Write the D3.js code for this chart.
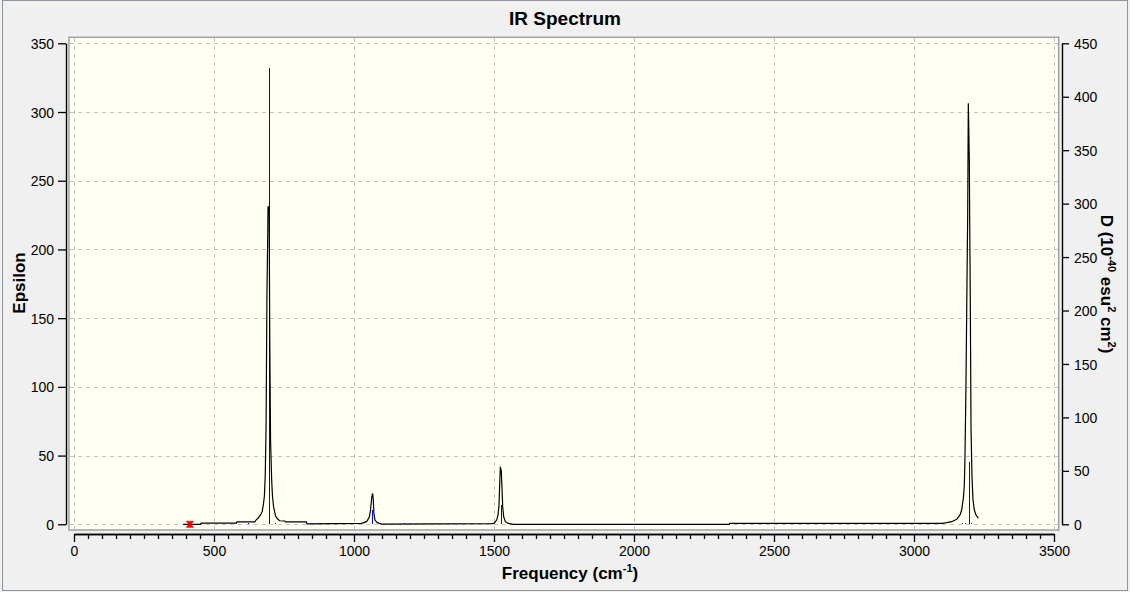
<!DOCTYPE html>
<html>
<head>
<meta charset="utf-8">
<script src="https://cdn.jsdelivr.net/npm/d3@7"></script>
<style>
  html, body { margin: 0; padding: 0; background: #f0f0f0; }
  svg { display: block; }
  text { font-family: "Liberation Sans", Arial, sans-serif; }
</style>
</head>
<body>
<svg id="chart" width="1130" height="592"></svg>
<script>
// ---- data ----
const curveFreq = [390, 452, 454, 580, 582, 646, 650, 658, 666, 672, 676, 680, 683, 686, 689, 692, 693, 697, 699, 702, 706, 709, 713, 717, 720, 725, 734, 753, 755, 830, 832,
  1027, 1045, 1055, 1059, 1063, 1065.5, 1067, 1069, 1071, 1075, 1083, 1099,
  1490, 1500, 1509.5, 1514.3, 1517.9, 1520.2, 1522.6, 1524, 1526.2, 1528.6, 1531, 1534.5, 1540.5, 1551, 1569,
  2340, 2342, 3100, 3116.7, 3134.5, 3152.4, 3164.3, 3170.2, 3176.2, 3179.8, 3182.1, 3185.7, 3189.3, 3191.7, 3194, 3197.6, 3198.8, 3201.2, 3203.6, 3207.1, 3210.7, 3215.5, 3221.4, 3229.8];
const curveEps = [0, 0, 0.9, 0.9, 1.7, 1.7, 3.1, 4.6, 6.8, 9.2, 14, 20.6, 35.9, 71, 166, 212, 231, 231, 139, 61, 32, 20, 12.4, 8.7, 6, 4.4, 2.6, 2.4, 1.7, 1.7, 0.3,
  0.7, 1.9, 5.5, 10.4, 18.9, 22, 22, 17.7, 8, 3.1, 1.2, 0.2,
  0.5, 0.7, 3.1, 6.8, 14, 28.6, 41.2, 40.7, 38.3, 26.2, 12.8, 5.5, 1.9, 0.7, 0,
  0, 0.7, 0.7, 1.2, 1.9, 3.6, 6.8, 10.4, 18.9, 28.6, 49.2, 102.6, 177.8, 223.9, 306.4, 265.1, 223.9, 158.4, 69.9, 34.6, 17.7, 10.4, 6.8, 4.4];

const stickFreq = [622, 695, 719, 1065, 1180, 1200, 1355, 1380, 1523.5, 3170, 3181, 3195, 3205];
const stickD    = [1, 427, 1, 13.4, 1, 1, 1, 1, 18, 1, 1, 58.3, 1];

const markerFreq = [414];

const xMajorTicks = [0, 500, 1000, 1500, 2000, 2500, 3000, 3500];
const yLeftTicks  = [0, 50, 100, 150, 200, 250, 300, 350];
const yRightTicks = [0, 50, 100, 150, 200, 250, 300, 350, 400, 450];

const titleText = "IR Spectrum";
const yLeftLabel = "Epsilon";

// ---- layout ----
const svg = d3.select("#chart");
const F = '"Liberation Sans", Arial, sans-serif';

const x  = d3.scaleLinear().domain([0, 3500]).range([74, 1054]);
const yL = d3.scaleLinear().domain([0, 350]).range([524.3, 43.3]);
const yR = d3.scaleLinear().domain([0, 450]).range([524.3, 43.3]);

// window background + border
svg.append("rect").attr("x", 2.5).attr("y", 0.5).attr("width", 1125).attr("height", 590)
  .attr("fill", "#f0f0f0").attr("stroke", "#8d969e").attr("stroke-width", 1);

// plot frame
const frame = {x0: 69, y0: 37.3, x1: 1058.7, y1: 530};
svg.append("rect").attr("x", frame.x0).attr("y", frame.y0)
  .attr("width", frame.x1 - frame.x0).attr("height", frame.y1 - frame.y0)
  .attr("fill", "#fffff4").attr("stroke", "#a0a0a0").attr("stroke-width", 1.5);

// grid
const grid = svg.append("g").attr("stroke", "#c4c4c4").attr("stroke-width", 1)
  .attr("stroke-dasharray", "4,4").attr("shape-rendering", "crispEdges");
grid.selectAll("line.h").data(yLeftTicks).join("line")
  .attr("x1", frame.x0 + 1).attr("x2", frame.x1 - 1)
  .attr("y1", d => Math.round(yL(d)) + 0.5).attr("y2", d => Math.round(yL(d)) + 0.5);
grid.selectAll("line.v").data(xMajorTicks).join("line")
  .attr("y1", frame.y0 + 1).attr("y2", frame.y1 - 1)
  .attr("x1", d => Math.round(x(d)) + 0.5).attr("x2", d => Math.round(x(d)) + 0.5);

// blue sticks
svg.append("g").attr("shape-rendering", "crispEdges").selectAll("line").data(stickFreq).join("line")
  .attr("x1", d => Math.round(x(d)) + 0.5).attr("x2", d => Math.round(x(d)) + 0.5)
  .attr("y1", yR(0)).attr("y2", (d, i) => yR(stickD[i]))
  .attr("stroke", "#0000ff").attr("stroke-width", 1);

// black curve
const pts = curveFreq.map((f, i) => [f, curveEps[i]]);
svg.append("path").datum(pts)
  .attr("d", d3.line().x(d => x(d[0])).y(d => yL(d[1])))
  .attr("fill", "none").attr("stroke", "#000").attr("stroke-width", 1.2);

// red marker
svg.append("g").selectAll("path").data(markerFreq).join("path")
  .attr("transform", d => `translate(${x(d)},${yL(0)})`)
  .attr("d", "M-3.5,-3 H3.5 L1,0 L3.5,3 H-3.5 L-1,0 Z")
  .attr("fill", "#ff0000").attr("stroke", "#ff0000").attr("stroke-width", 0.8);

// axes
function styleAxis(g) {
  g.attr("font-size", 14).attr("font-family", F);
  g.selectAll("path").attr("stroke", "#000").attr("stroke-width", 1.4);
  g.selectAll("line").attr("stroke", "#000").attr("stroke-width", 1.3);
  g.selectAll("text").attr("font-family", F).attr("font-size", 14).attr("fill", "#000");
}
const fmt = d3.format("d");

const gL = svg.append("g").attr("transform", "translate(66,0)")
  .call(d3.axisLeft(yL).tickValues(yLeftTicks).tickFormat(fmt).tickSize(8).tickSizeOuter(0).tickPadding(4));
styleAxis(gL);
gL.selectAll("text").attr("dy", "0.36em");

const gR = svg.append("g").attr("transform", "translate(1062,0)")
  .call(d3.axisRight(yR).tickValues(yRightTicks).tickFormat(fmt).tickSize(7).tickSizeOuter(0).tickPadding(5));
styleAxis(gR);
gR.selectAll("text").attr("dy", "0.36em");

const minorTicks = d3.range(0, 3501, 50).filter(v => v % 500 !== 0);
const gBm = svg.append("g").attr("transform", "translate(0,534)")
  .call(d3.axisBottom(x).tickValues(minorTicks).tickSize(5).tickSizeOuter(0).tickFormat(""));
styleAxis(gBm);
const gB = svg.append("g").attr("transform", "translate(0,534)")
  .call(d3.axisBottom(x).tickValues(xMajorTicks).tickFormat(fmt).tickSize(8).tickSizeOuter(0).tickPadding(4));
styleAxis(gB);

// title
svg.append("text").attr("x", 565).attr("y", 25).attr("text-anchor", "middle")
  .attr("font-family", F).attr("font-size", 19).attr("font-weight", "bold").text(titleText);

// left y label
svg.append("text").attr("transform", "translate(25,283) rotate(-90)").attr("text-anchor", "middle")
  .attr("font-family", F).attr("font-size", 17).attr("font-weight", "bold").text(yLeftLabel);

// x label
const xl = svg.append("text").attr("x", 570).attr("y", 579).attr("text-anchor", "middle")
  .attr("font-family", F).attr("font-size", 17).attr("font-weight", "bold");
xl.append("tspan").text("Frequency (cm");
xl.append("tspan").attr("dy", -7).attr("font-size", 11).text("-1");
xl.append("tspan").attr("dy", 7).text(")");

// right y label
const rl = svg.append("text").attr("transform", "translate(1101,284) rotate(90)").attr("text-anchor", "middle")
  .attr("font-family", F).attr("font-size", 17).attr("font-weight", "bold");
rl.append("tspan").text("D (10");
rl.append("tspan").attr("dy", -7).attr("font-size", 11).text("-40");
rl.append("tspan").attr("dy", 7).text(" esu");
rl.append("tspan").attr("dy", -7).attr("font-size", 11).text("2");
rl.append("tspan").attr("dy", 7).text(" cm");
rl.append("tspan").attr("dy", -7).attr("font-size", 11).text("2");
rl.append("tspan").attr("dy", 7).text(")");
</script>
</body>
</html>
